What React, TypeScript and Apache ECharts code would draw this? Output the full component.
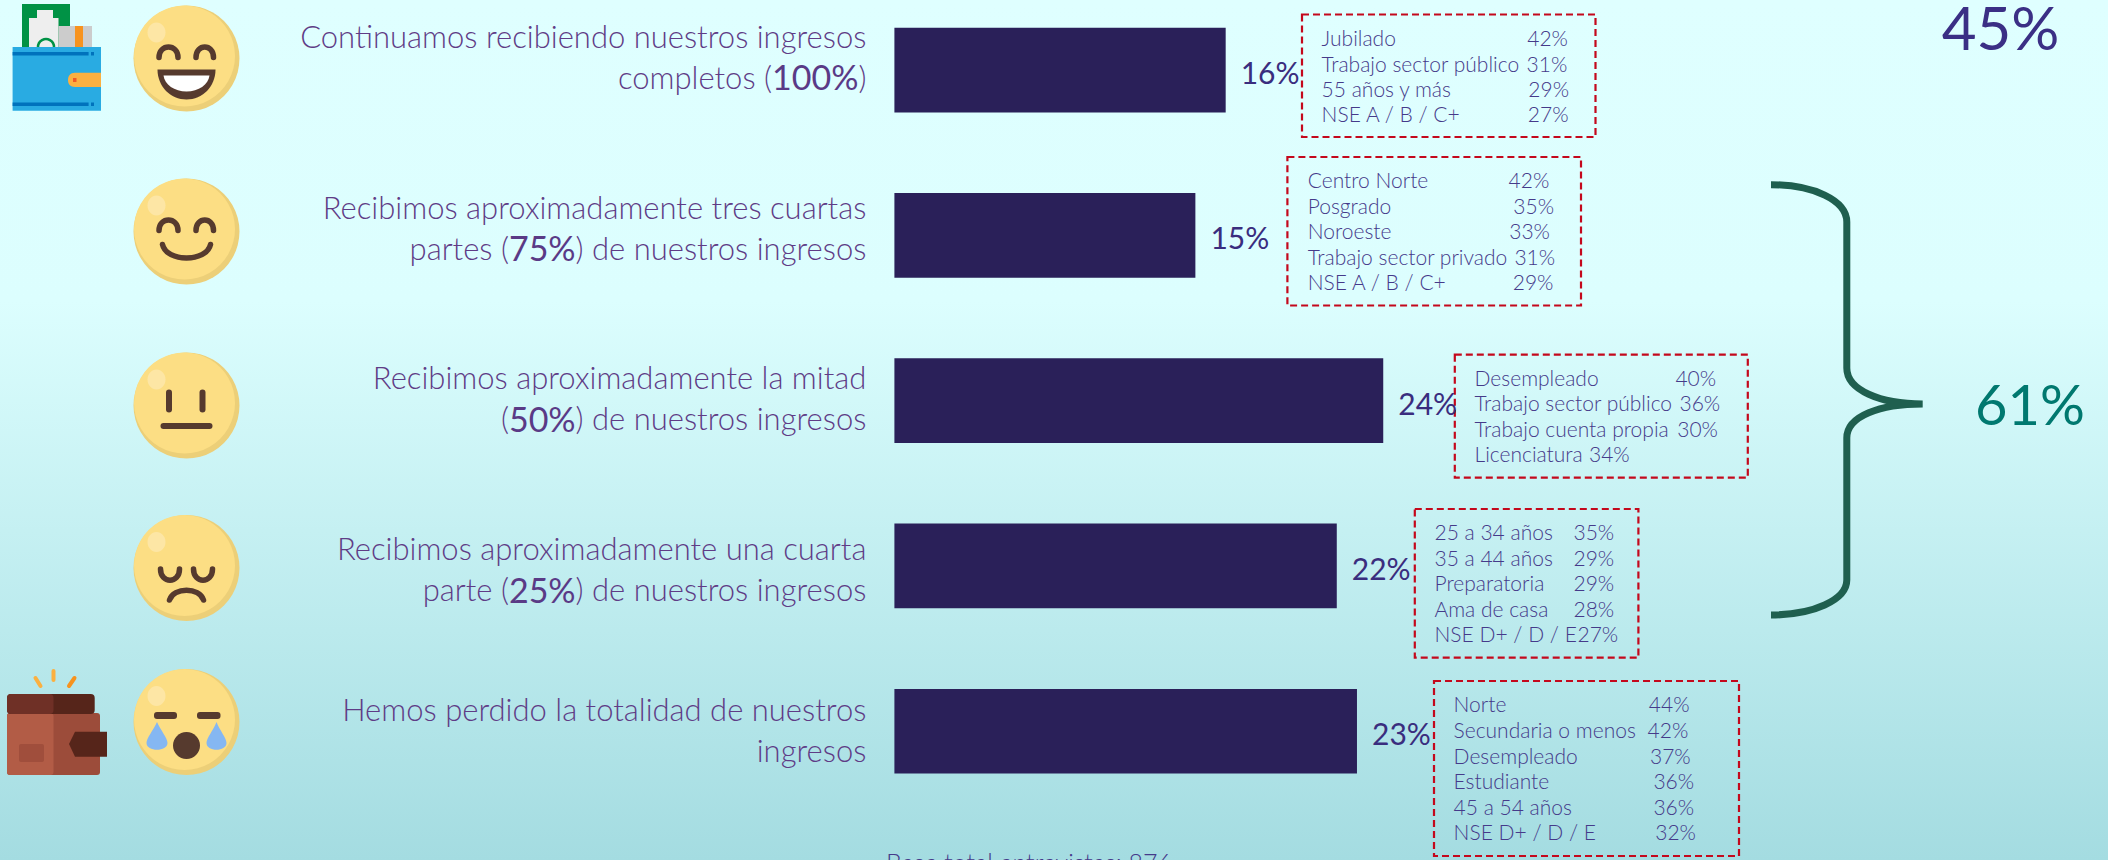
import React, { useEffect, useRef } from "react";
import * as echarts from "echarts";

const categories = [
  "Continuamos recibiendo nuestros ingresos\ncompletos (100%)",
  "Recibimos aproximadamente tres cuartas\npartes (75%) de nuestros ingresos",
  "Recibimos aproximadamente la mitad\n(50%) de nuestros ingresos",
  "Recibimos aproximadamente una cuarta\nparte (25%) de nuestros ingresos",
  "Hemos perdido la totalidad de nuestros\ningresos",
];
const values = [16.4, 14.9, 24.2, 21.9, 22.9];
const valueLabels = ["16%", "15%", "24%", "22%", "23%"];
const labelShift = [-14, -8, -3, 3, -2];

const box1Names = ["Jubilado", "Trabajo sector público", "55 años y más", "NSE A / B / C+"];
const box1Pcts = ["42%", "31%", "29%", "27%"];
const box2Names = ["Centro Norte", "Posgrado", "Noroeste", "Trabajo sector privado", "NSE A / B / C+"];
const box2Pcts = ["42%", "35%", "33%", "31%", "29%"];
const box3Names = ["Desempleado", "Trabajo sector público", "Trabajo cuenta propia", "Licenciatura"];
const box3Pcts = ["40%", "36%", "30%", "34%"];
const box4Names = ["25 a 34 años", "35 a 44 años", "Preparatoria", "Ama de casa", "NSE D+ / D / E"];
const box4Pcts = ["35%", "29%", "29%", "28%", "27%"];
const box5Names = ["Norte", "Secundaria o menos", "Desempleado", "Estudiante", "45 a 54 años", "NSE D+ / D / E"];
const box5Pcts = ["44%", "42%", "37%", "36%", "36%", "32%"];

const topTotal = "45%";
const groupTotal = "61%";
const baseNote = "Base total entrevistas: 876";

const FONT = "Lato";
const INK = "#5F3C86";
const BOX_INK = "#453A8A";
const BROWN = "#563A2E";

const boxLayouts = [
  { names: box1Names, pcts: box1Pcts, rect: [1302, 14.5, 293.5, 122.5], textX: 1321.6, pctX: [1527.2, 1526.6, 1528.3, 1527.8], rows: [37, 63, 88, 113.5] },
  { names: box2Names, pcts: box2Pcts, rect: [1287.4, 157, 293.6, 148.5], textX: 1307.7, pctX: [1508.6, 1513.3, 1509.2, 1514.4, 1512.7], rows: [179.5, 205.5, 230.5, 256.5, 281.5] },
  { names: box3Names, pcts: box3Pcts, rect: [1454.8, 354.7, 293, 123], textX: 1474.5, pctX: [1675.4, 1679.5, 1677.2, 1589], rows: [377.5, 402.5, 428.5, 453.5] },
  { names: box4Names, pcts: box4Pcts, rect: [1414.8, 509, 223.6, 148.7], textX: 1434.5, pctX: [1573.5, 1573.5, 1573.5, 1573.5, 1577.5], rows: [531.2, 557.8, 582.5, 608.5, 633.5] },
  { names: box5Names, pcts: box5Pcts, rect: [1434, 681, 305, 175], textX: 1453.6, pctX: [1648.8, 1647.6, 1650, 1653.4, 1653.4, 1655.2], rows: [703.5, 729.5, 755.5, 780.5, 806.5, 831.2] },
];

const shapes: Record<string, string> = {
  bracket:
    "M1771 184.7 C1813 184.7 1846.8 200 1846.8 222 L1846.8 368 C1846.8 390 1880 404 1922.7 404 C1880 404 1846.8 416 1846.8 438 L1846.8 580 C1846.8 600 1813 615 1771 615",
  eyeUpL: "M-27.5 -1 C-27.5 -15 -8.5 -15 -8.5 -1",
  eyeUpR: "M9.5 -1 C9.5 -15 27 -15 27 -1",
  grin: "M-29 11 L29 11 C29 28 16 41 0 41 C-16 41 -29 28 -29 11 Z",
  teeth: "M-23 17 L23 17 C22 26 12 33 0 33 C-12 33 -22 26 -23 17 Z",
  smile: "M-24 13 C-20 31 20 31 24 13",
  eyeDownL: "M-26 1 C-26 16 -7 16 -7 1",
  eyeDownR: "M7 1 C7 16 26 16 26 1",
  frown: "M-17 32 C-13 19 13 19 17 32",
  tearL: "M-29.5 0 C-26 8 -19 16 -19 21 C-19 30 -40 30 -40 21 C-40 16 -33 8 -29.5 0 Z",
  tearR: "M30 0 C33 8 40 16 40 21 C40 30 20 30 20 21 C20 16 27 8 30 0 Z",
  clasp1: "M101 72.7 L75 72.7 C70 72.7 68 76 68 80 C68 84 70 87 75 87 L101 87 Z",
};
Object.entries(shapes).forEach(([name, d]) => {
  echarts.graphic.registerShape(name, echarts.graphic.extendPath(d, {}));
});

const stroke = (type: string, color = BROWN, lineWidth = 5.5) => ({
  type,
  style: { fill: "none", stroke: color, lineWidth, lineCap: "round" },
});
const fill = (type: string, color: string) => ({ type, style: { fill: color } });
const bar = (x: number, y: number, w: number, h: number, color: string, r = 0) => ({
  type: "rect",
  shape: { x, y, width: w, height: h, r },
  style: { fill: color },
});

const faceParts = [
  [stroke("eyeUpL"), stroke("eyeUpR"), fill("grin", BROWN), fill("teeth", "#FFFFFF")],
  [stroke("eyeUpL"), stroke("eyeUpR"), stroke("smile")],
  [
    { type: "line", shape: { x1: -17.5, y1: -13, x2: -17.5, y2: 4 }, style: { stroke: BROWN, lineWidth: 6, lineCap: "round" } },
    { type: "line", shape: { x1: 16, y1: -13, x2: 16, y2: 4 }, style: { stroke: BROWN, lineWidth: 6, lineCap: "round" } },
    bar(-26, 17.5, 52, 6, BROWN, 3),
  ],
  [stroke("eyeDownL"), stroke("eyeDownR"), stroke("frown")],
  [
    bar(-32.5, -10, 23, 7, BROWN, 3),
    bar(10.5, -10, 23.5, 7, BROWN, 3),
    fill("tearL", "#85B7F2"),
    fill("tearR", "#85B7F2"),
    { type: "ellipse", shape: { cx: 0, cy: 23.5, rx: 13.5, ry: 13.5 }, style: { fill: BROWN } },
  ],
];
const faceCenters = [58.5, 231.5, 405.5, 568, 722];

function face(i: number) {
  return {
    type: "group",
    x: 186.5,
    y: faceCenters[i],
    children: [
      { type: "circle", shape: { cx: 0, cy: 0, r: 53 }, style: { fill: "#ECCF78" } },
      { type: "circle", shape: { cx: -2, cy: -2.5, r: 50.5 }, style: { fill: "#FCDE84" } },
      { type: "ellipse", shape: { cx: -30, cy: -26, rx: 9, ry: 10 }, style: { fill: "#FDE6A5" } },
      ...faceParts[i],
    ],
  };
}

const richWallet = {
  type: "group",
  children: [
    bar(22, 4, 48, 44, "#009245"),
    bar(29, 18, 29.5, 30, "#EEEEEE"),
    bar(37, 10, 16, 9, "#EEEEEE"),
    { type: "circle", shape: { cx: 46, cy: 47, r: 8 }, style: { fill: "none", stroke: "#009245", lineWidth: 2.5 } },
    bar(58.5, 26, 33.5, 22, "#CCCCCC"),
    bar(75, 26, 8, 22, "#F7931E"),
    bar(12.6, 47, 88.4, 63.7, "#29ABE2"),
    bar(12.6, 52, 76, 3.5, "#0072BC"),
    bar(91, 52, 3, 3.5, "#0072BC"),
    bar(12.6, 102.5, 76, 3.5, "#0072BC"),
    bar(91, 102.5, 3, 3.5, "#0072BC"),
    fill("clasp1", "#FBB040"),
    bar(73, 78, 3.5, 4, "#F15A24"),
  ],
};

const emptyWallet = {
  type: "group",
  children: [
    { type: "line", shape: { x1: 53.5, y1: 671, x2: 53.5, y2: 680 }, style: { stroke: "#FBB040", lineWidth: 4, lineCap: "round" } },
    { type: "line", shape: { x1: 35.5, y1: 678, x2: 40.5, y2: 686 }, style: { stroke: "#FBB040", lineWidth: 4, lineCap: "round" } },
    { type: "line", shape: { x1: 74.5, y1: 678, x2: 69, y2: 686 }, style: { stroke: "#F7931E", lineWidth: 4, lineCap: "round" } },
    bar(7, 713, 93, 62, "#9C4C3A", 3),
    bar(7, 713, 46.5, 62, "#B25C46", 3),
    bar(7, 694, 87.7, 20, "#56251A", 4),
    bar(7, 694, 46.5, 20, "#6F3026", 4),
    bar(19, 744, 25, 18, "#A04E3C", 2),
    { type: "polygon", shape: { points: [[75, 731.7], [107, 731.7], [107, 756.7], [75, 756.7], [69, 744]] }, style: { fill: "#56251A" } },
  ],
};

function txt(text: string, x: number, y: number, fontSize: number, color: string, align = "left", fontWeight = 300) {
  return {
    type: "text",
    x,
    y,
    style: {
      text,
      fill: color,
      fontSize,
      fontFamily: FONT,
      fontWeight,
      textAlign: align,
      textVerticalAlign: "middle",
    },
  };
}

function detailBox(b: (typeof boxLayouts)[number]) {
  const [x, y, width, height] = b.rect;
  const children: any[] = [
    {
      type: "rect",
      shape: { x, y, width, height },
      style: { fill: "none", stroke: "#C4081C", lineWidth: 2.2, lineDash: [7, 4] },
    },
  ];
  b.names.forEach((n, i) => {
    children.push(txt(n, b.textX, b.rows[i], 21, BOX_INK));
    children.push(txt(b.pcts[i], b.pctX[i], b.rows[i], 21, BOX_INK));
  });
  return { type: "group", children };
}

export default function App() {
  const ref = useRef<HTMLDivElement>(null);
  useEffect(() => {
    document.body.style.margin = "0";
    document.documentElement.style.overflow = "hidden";
    const chart = echarts.init(ref.current!, undefined, { renderer: "svg" });
    chart.setOption({
      animation: false,
      backgroundColor: {
        type: "linear",
        x: 0,
        y: 0,
        x2: 0,
        y2: 1,
        colorStops: [
          { offset: 0, color: "#DFFFFF" },
          { offset: 0.35, color: "#DCFEFE" },
          { offset: 1, color: "#A4DCE1" },
        ],
      },
      grid: { left: 894.4, top: -12.6, width: 1010, height: 826.5, containLabel: false, outerBoundsMode: "none" },
      xAxis: { type: "value", min: 0, max: 50, show: false },
      yAxis: {
        type: "category",
        inverse: true,
        data: categories.map((value, i) => {
          const s = labelShift[i];
          return { value, textStyle: { padding: s < 0 ? [0, 0, -2 * s, 0] : [2 * s, 0, 0, 0] } };
        }),
        axisLine: { show: false },
        axisTick: { show: false },
        splitLine: { show: false },
        axisLabel: {
          margin: 28,
          align: "right",
          interval: 0,
          formatter: (v: string) =>
            v
              .split("\n")
              .map((line) => {
                const m = line.match(/^(.*\()(\d+%)(\).*)$/);
                return m ? `{t|${m[1]}}{n|${m[2]}}{t|${m[3]}}` : `{t|${line}}`;
              })
              .join("\n"),
          rich: {
            t: { fontFamily: FONT, fontWeight: 300, fontSize: 31, color: INK, lineHeight: 41, align: "right" },
            n: { fontFamily: FONT, fontWeight: 400, fontSize: 34, color: "#5A3A86", lineHeight: 41, align: "right" },
          },
        },
      },
      series: [
        {
          type: "bar",
          data: values,
          barWidth: 84.7,
          itemStyle: { color: "#2A2059" },
          label: {
            show: true,
            position: "right",
            distance: 15,
            offset: [0, 2],
            color: "#3A2D7E",
            fontFamily: FONT,
            fontWeight: 400,
            fontSize: 30,
            formatter: (p: any) => valueLabels[p.dataIndex],
          },
        },
      ],
      graphic: {
        elements: [
          richWallet,
          emptyWallet,
          face(0),
          face(1),
          face(2),
          face(3),
          face(4),
          ...boxLayouts.map(detailBox),
          {
            type: "bracket",
            x: 0,
            y: 0,
            scaleX: 1,
            scaleY: 1,
            style: { fill: "none", stroke: "#1F5F4F", lineWidth: 7 },
          },
          txt(topTotal, 2000.6, 27, 60, "#3B2F85", "center", 400),
          txt(groupTotal, 2030, 403, 56, "#00786F", "center", 400),
          txt(baseNote, 1029, 862, 25, BOX_INK, "center"),
        ],
      },
    });
    return () => chart.dispose();
  }, []);
  return <div ref={ref} style={{ position: "absolute", left: 0, top: 0, width: 2108, height: 860 }} />;
}
